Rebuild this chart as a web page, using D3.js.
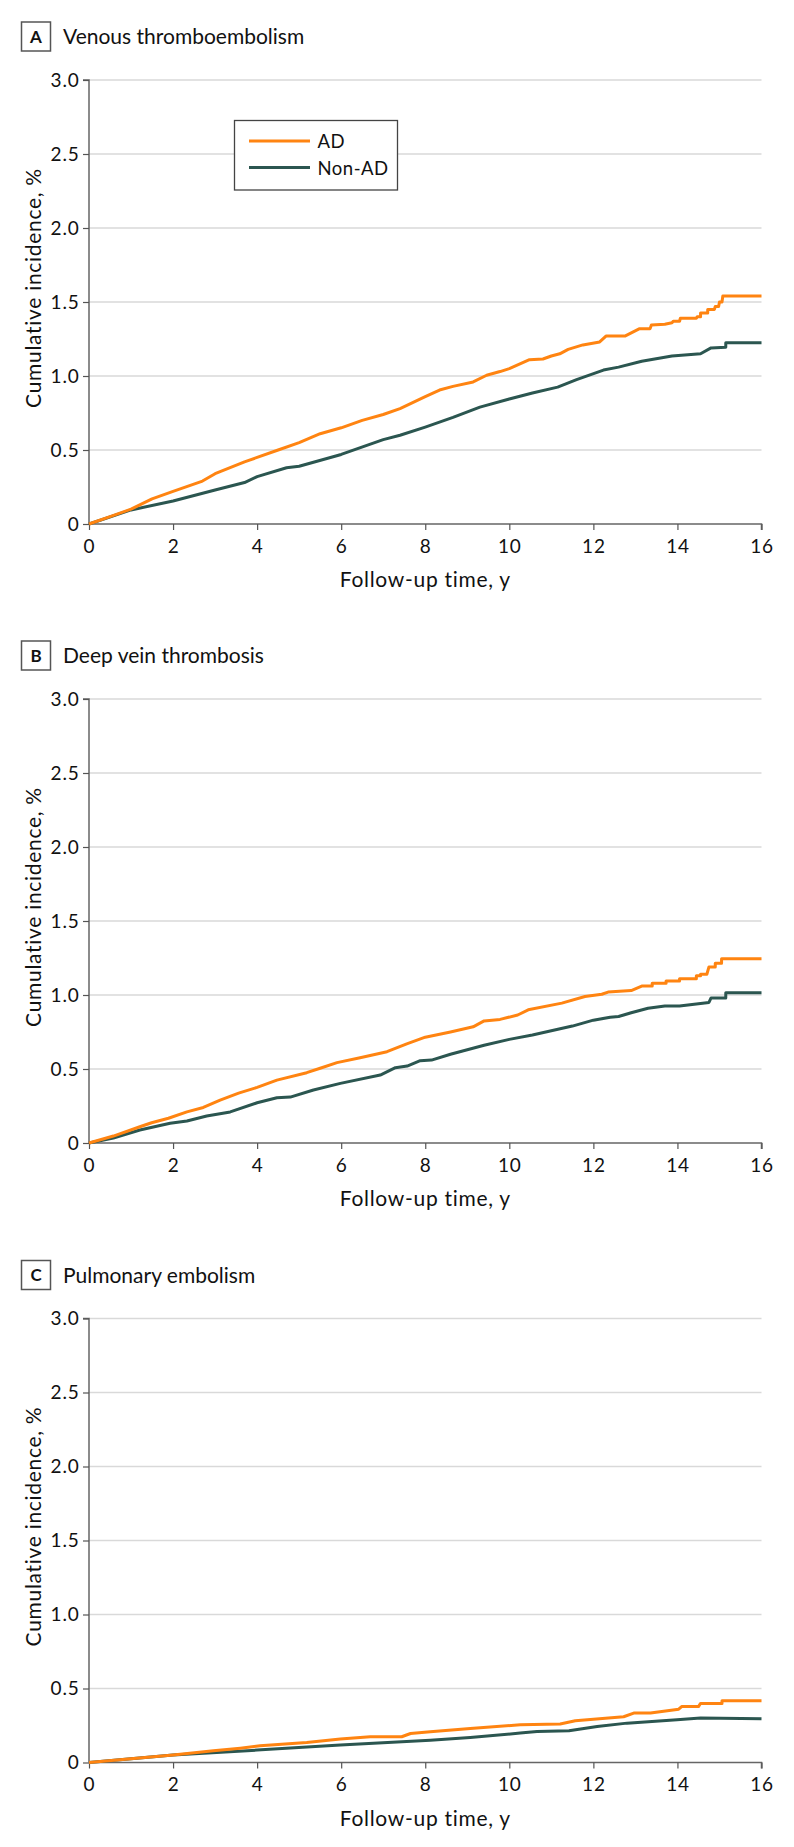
<!DOCTYPE html>
<html><head><meta charset="utf-8">
<script src="https://cdn.jsdelivr.net/npm/d3@7"></script>
<style>
html,body{margin:0;padding:0;background:#fff;}
svg{display:block;font-family:Lato,"Open Sans",sans-serif;}
</style></head>
<body>
<svg id="chart" width="794" height="1847"></svg>
<script>
// ---- data ----
const panelLetters = ["A", "B", "C"];
const panelTitles = ["Venous thromboembolism", "Deep vein thrombosis", "Pulmonary embolism"];
const seriesNames = ["AD", "Non-AD"];
const xTicks = [0, 2, 4, 6, 8, 10, 12, 14, 16];
const yTicks = [0, 0.5, 1.0, 1.5, 2.0, 2.5, 3.0];
const yTickLabels = ["0", "0.5", "1.0", "1.5", "2.0", "2.5", "3.0"];
const xLabel = "Follow-up time, y";
const yLabel = "Cumulative incidence, %";

// [time (y), cumulative incidence (%)]
const vteAD = [[0,0],[0.5,0.05],[1,0.10],[1.5,0.17],[2,0.22],[2.7,0.29],[3,0.34],[3.7,0.42],[4,0.45],[4.5,0.50],[5,0.55],[5.5,0.61],[6,0.65],[6.5,0.70],[7,0.74],[7.4,0.78],[8,0.86],[8.34,0.905],[8.66,0.93],[9.14,0.96],[9.46,1.005],[9.78,1.03],[10,1.05],[10.48,1.11],[10.8,1.115],[11.0,1.135],[11.2,1.15],[11.4,1.18],[11.75,1.21],[12.15,1.23],[12.3,1.27],[12.75,1.27],[13.1,1.32],[13.35,1.32],[13.38,1.345],[13.7,1.35],[13.87,1.36],[13.9,1.37],[14.05,1.37],[14.07,1.39],[14.45,1.39],[14.47,1.40],[14.55,1.40],[14.55,1.425],[14.72,1.425],[14.72,1.45],[14.88,1.45],[14.9,1.47],[14.98,1.47],[15.0,1.50],[15.06,1.50],[15.08,1.54],[16,1.54]];
const vteNonAD = [[0,0],[1,0.095],[2,0.155],[3,0.23],[3.7,0.28],[4,0.32],[4.7,0.38],[5,0.39],[6,0.47],[7,0.57],[7.4,0.60],[8,0.655],[8.66,0.72],[9.3,0.79],[10,0.845],[10.55,0.885],[11.15,0.925],[11.6,0.975],[12.24,1.04],[12.6,1.06],[13.15,1.10],[13.87,1.135],[14.55,1.15],[14.8,1.19],[15.15,1.195],[15.15,1.225],[16,1.225]];
const dvtAD = [[0,0],[0.58,0.047],[1.21,0.11],[1.49,0.137],[1.89,0.167],[2.33,0.21],[2.72,0.24],[3.12,0.29],[3.56,0.337],[4.0,0.376],[4.47,0.425],[5.18,0.475],[5.5,0.505],[5.9,0.543],[6.45,0.576],[7.09,0.617],[7.56,0.67],[8,0.715],[8.6,0.75],[9.14,0.785],[9.4,0.825],[9.78,0.835],[10.2,0.865],[10.45,0.90],[11.25,0.945],[11.8,0.99],[12.2,1.005],[12.35,1.02],[12.9,1.03],[13.15,1.06],[13.4,1.06],[13.4,1.08],[13.73,1.08],[13.73,1.095],[14.05,1.095],[14.05,1.11],[14.45,1.11],[14.45,1.13],[14.55,1.13],[14.55,1.14],[14.7,1.14],[14.75,1.19],[14.9,1.19],[14.9,1.215],[15.05,1.215],[15.05,1.245],[16,1.245]];
const dvtNonAD = [[0,0],[0.58,0.034],[1.21,0.088],[1.93,0.133],[2.33,0.149],[2.8,0.182],[3.36,0.21],[4.0,0.272],[4.47,0.306],[4.79,0.31],[5.34,0.358],[5.98,0.403],[6.93,0.459],[7.29,0.509],[7.57,0.52],[7.88,0.556],[8.15,0.56],[8.6,0.60],[9.4,0.66],[10,0.70],[10.55,0.73],[11.5,0.79],[12,0.83],[12.4,0.85],[12.6,0.855],[12.9,0.88],[13.3,0.91],[13.7,0.925],[14.05,0.925],[14.75,0.95],[14.8,0.98],[15.15,0.98],[15.15,1.015],[16,1.015]];
const peAD = [[0,0],[2,0.05],[2.96,0.079],[3.6,0.097],[4.07,0.113],[5.18,0.135],[5.98,0.158],[6.69,0.174],[7.44,0.174],[7.65,0.196],[8.12,0.207],[9.07,0.23],[10.26,0.255],[11.21,0.26],[11.57,0.282],[12.72,0.309],[12.96,0.334],[13.36,0.334],[14.03,0.36],[14.1,0.378],[14.5,0.378],[14.55,0.399],[15.06,0.399],[15.06,0.417],[16,0.417]];
const peNonAD = [[0,0],[2,0.05],[4,0.084],[5.98,0.118],[8.12,0.151],[9.07,0.169],[10.26,0.199],[10.66,0.21],[11.42,0.214],[12.09,0.243],[12.8,0.266],[13.99,0.289],[14.55,0.30],[16,0.295]];

const panelSeries = [[vteAD, vteNonAD], [dvtAD, dvtNonAD], [peAD, peNonAD]];

// ---- layout / style ----
const colors = ["#FF8411", "#2B5650"];
const plotLeft = 89, plotRight = 761.5, plotH = 444;
const panelTops = [80, 699, 1318.5];
const svg = d3.select("#chart");

const x = d3.scaleLinear().domain([0, 16]).range([plotLeft, plotRight]);

panelTops.forEach((top, i) => {
  const y = d3.scaleLinear().domain([0, 3]).range([top + plotH, top]);
  const g = svg.append("g");

  // title box + letter
  g.append("rect").attr("x", 21.5).attr("y", top - 58).attr("width", 29).attr("height", 29)
    .attr("fill", "#fff").attr("stroke", "#555").attr("stroke-width", 1.5);
  g.append("text").attr("x", 36).attr("y", top - 37.5).attr("text-anchor", "middle")
    .attr("font-size", 17).attr("font-weight", 700).attr("fill", "#111").text(panelLetters[i]);
  g.append("text").attr("x", 63).attr("y", top - 36).attr("font-size", 21).attr("fill", "#111")
    .text(panelTitles[i]);

  // gridlines
  g.append("g").selectAll("line").data(yTicks.filter(d => d > 0)).join("line")
    .attr("x1", plotLeft).attr("x2", plotRight).attr("y1", d => y(d)).attr("y2", d => y(d))
    .attr("stroke", "#d9d9d9").attr("stroke-width", 1.5);

  // axes
  const yAxis = d3.axisLeft(y).tickValues(yTicks).tickSize(6).tickPadding(3.5)
    .tickFormat((d, k) => yTickLabels[k]);
  const ya = g.append("g").attr("transform", `translate(${plotLeft},0)`).call(yAxis);
  const xAxis = d3.axisBottom(x).tickValues(xTicks).tickSize(6).tickPadding(9.5).tickFormat(d3.format("d"));
  const xa = g.append("g").attr("transform", `translate(0,${top + plotH})`).call(xAxis);
  [ya, xa].forEach(a => {
    a.select(".domain").attr("stroke", "#666").attr("stroke-width", 1.5);
    a.selectAll(".tick line").attr("stroke", "#555").attr("stroke-width", 1.2);
    a.selectAll(".tick text").attr("font-size", 19).attr("fill", "#111")
      .attr("letter-spacing", "0.8px")
      .attr("font-family", "Lato, 'Open Sans', sans-serif");
  });
  ya.select(".domain").attr("d", `M-6,${y(3)}H0V${y(0)}`);
  xa.select(".domain").attr("d", `M${x(0)},0H${x(16)}V6`);

  // axis titles
  g.append("text").attr("x", (plotLeft + plotRight) / 2).attr("y", top + plotH + 63)
    .attr("text-anchor", "middle").attr("font-size", 21).attr("letter-spacing", "0.7px")
    .attr("fill", "#111").text(xLabel);
  g.append("text").attr("transform", `translate(41,${top + plotH / 2 - 14}) rotate(-90)`)
    .attr("text-anchor", "middle").attr("font-size", 21).attr("letter-spacing", "0.7px")
    .attr("fill", "#111").text(yLabel);

  // lines (non-AD drawn first, AD on top)
  const line = d3.line().x(d => x(d[0])).y(d => y(d[1]));
  [1, 0].forEach(s => {
    g.append("path").datum(panelSeries[i][s]).attr("d", line)
      .attr("fill", "none").attr("stroke", colors[s]).attr("stroke-width", 3)
      .attr("stroke-linejoin", "round");
  });

  // legend in panel A
  if (i === 0) {
    const lg = g.append("g");
    lg.append("rect").attr("x", 234.5).attr("y", 120.5).attr("width", 163).attr("height", 69.5)
      .attr("fill", "#fff").attr("stroke", "#444").attr("stroke-width", 1.3);
    seriesNames.forEach((nm, k) => {
      const ly = 141 + k * 26.5;
      lg.append("line").attr("x1", 249).attr("x2", 310).attr("y1", ly).attr("y2", ly)
        .attr("stroke", colors[k]).attr("stroke-width", 3);
      lg.append("text").attr("x", 317.5).attr("y", ly + 7).attr("font-size", 18.5)
        .attr("letter-spacing", "0.5px").attr("fill", "#111").text(nm);
    });
  }
});
</script>
</body></html>
